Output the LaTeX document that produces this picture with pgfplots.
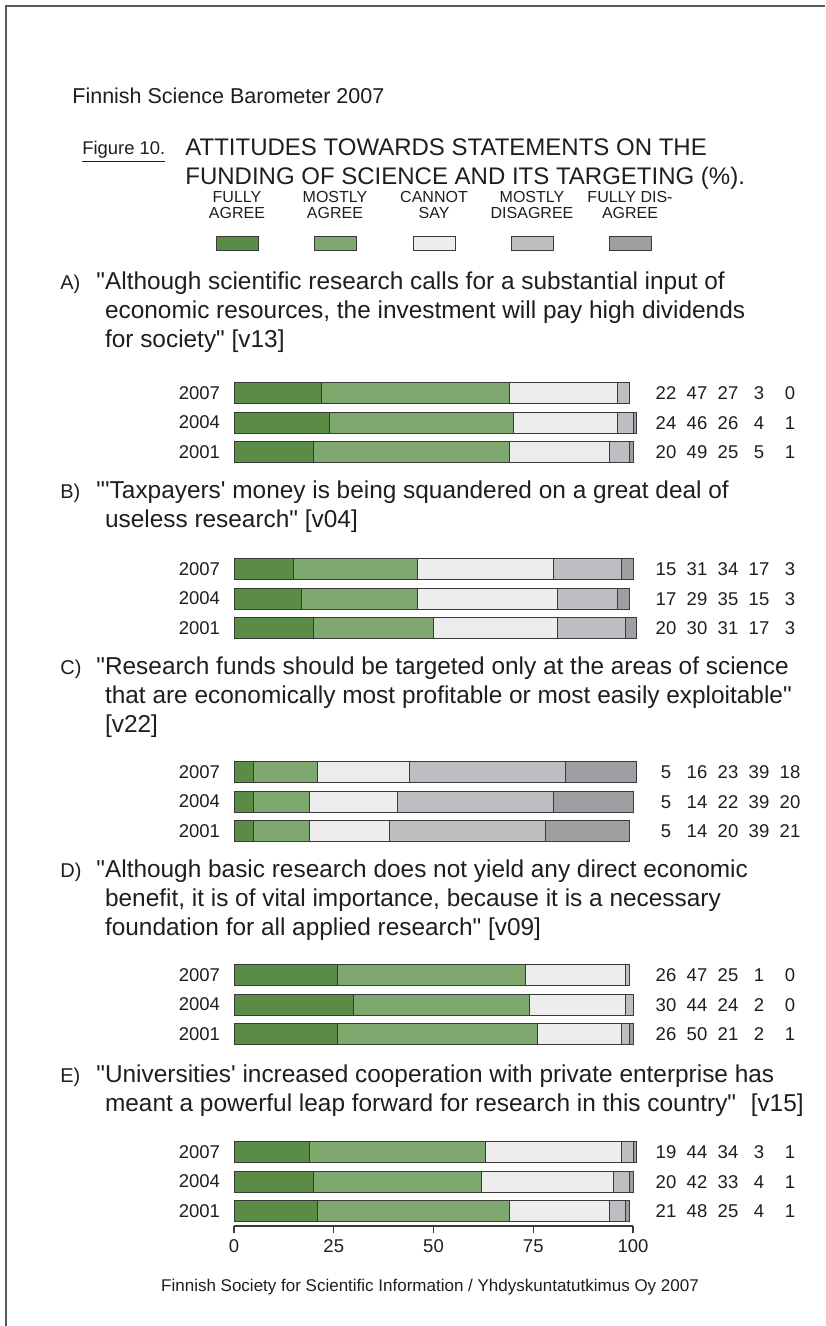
\documentclass[border=0pt]{standalone}
\usepackage{pgfplots}
\pgfplotsset{compat=1.18}
\usepackage{pgfplotstable}
\usepackage{fontspec}
\setmainfont{Liberation Sans}

\definecolor{fullyagree}{HTML}{5A8C46}
\definecolor{mostlyagree}{HTML}{7FA86E}
\definecolor{cannotsay}{HTML}{EDEDED}
\definecolor{mostlydis}{HTML}{BDBEC2}
\definecolor{fullydis}{HTML}{9E9FA3}
\definecolor{barline}{HTML}{3A3A3A}
\definecolor{framegray}{HTML}{5A5A5A}
\definecolor{txt}{HTML}{1E1E1E}

\newcommand\headfont{\fontsize{10.75}{12}\selectfont}
\newcommand\figfont{\fontsize{9.2}{10}\selectfont}
\newcommand\titlefont{\fontsize{12}{14.5}\selectfont}
\newcommand\stmtfont{\fontsize{12.2}{14.5}\selectfont}
\newcommand\letterfont{\fontsize{10}{12}\selectfont}
\newcommand\legfont{\fontsize{8}{8}\selectfont}
\newcommand\numfont{\fontsize{9.25}{11}\selectfont}
\newcommand\footfont{\fontsize{8.5}{10}\selectfont}
\newcommand\q{\textquotedbl}

% shares (%) per statement and survey year; ypos = vertical position of the bar
\pgfplotstableread{
ypos   year fa ma cs md fd
393    2007 22 47 27  3  0
422.5  2004 24 46 26  4  1
452    2001 20 49 25  5  1
569    2007 15 31 34 17  3
598.5  2004 17 29 35 15  3
628    2001 20 30 31 17  3
772    2007  5 16 23 39 18
801.5  2004  5 14 22 39 20
831    2001  5 14 20 39 21
975    2007 26 47 25  1  0
1004.5 2004 30 44 24  2  0
1034   2001 26 50 21  2  1
1152   2007 19 44 34  3  1
1181.5 2004 20 42 33  4  1
1211   2001 21 48 25  4  1
}\survey

\begin{document}
\begin{tikzpicture}
\begin{scope}[x=0.5pt,y=-0.5pt]
  \path[use as bounding box] (0,0) rectangle (825,1326);
  % page frame
  \draw[framegray, line width=1pt] (6,1326) -- (6,6) -- (825,6);

  % header
  \node[anchor=base west, inner sep=0pt, txt, font=\headfont] at (72,104) {Finnish Science Barometer 2007};
  \node[anchor=base west, inner sep=0pt, txt, font=\figfont] at (82,155) {\underline{Figure 10.}};
  \node[anchor=base west, inner sep=0pt, txt, font=\titlefont] at (185,156) {ATTITUDES TOWARDS STATEMENTS ON THE};
  \node[anchor=base west, inner sep=0pt, txt, font=\titlefont] at (185,185) {FUNDING OF SCIENCE AND ITS TARGETING (\%).};

  % legend
  \foreach \cx/\la/\lb/\col in {237/FULLY/AGREE/fullyagree, 335/MOSTLY/AGREE/mostlyagree,
                               434/CANNOT/SAY/cannotsay, 532/MOSTLY/DISAGREE/mostlydis,
                               630/FULLY DIS-/AGREE/fullydis}{
    \node[anchor=base, inner sep=0pt, txt, font=\legfont] at (\cx,203) {\la};
    \node[anchor=base, inner sep=0pt, txt, font=\legfont] at (\cx,219) {\lb};
    \draw[fill=\col, draw=barline, line width=0.4pt] (\cx-21,236) rectangle (\cx+21,250);
  }

  % statements
  \node[anchor=base west, inner sep=0pt, txt, font=\letterfont] at (60,290) {A)};
  \node[anchor=base west, inner sep=0pt, txt, font=\stmtfont] at (96,290) {\q Although scientific research calls for a substantial input of};
  \node[anchor=base west, inner sep=0pt, txt, font=\stmtfont] at (96,319) {\phantom{\q}economic resources, the investment will pay high dividends};
  \node[anchor=base west, inner sep=0pt, txt, font=\stmtfont] at (96,348) {\phantom{\q}for society\q{} [v13]};

  \node[anchor=base west, inner sep=0pt, txt, font=\letterfont] at (60,498) {B)};
  \node[anchor=base west, inner sep=0pt, txt, font=\stmtfont] at (96,498) {\q\textquotesingle Taxpayers\textquotesingle{} money is being squandered on a great deal of};
  \node[anchor=base west, inner sep=0pt, txt, font=\stmtfont] at (96,527) {\phantom{\q}useless research\q{} [v04]};

  \node[anchor=base west, inner sep=0pt, txt, font=\letterfont] at (60,674) {C)};
  \node[anchor=base west, inner sep=0pt, txt, font=\stmtfont] at (96,674) {\q Research funds should be targeted only at the areas of science};
  \node[anchor=base west, inner sep=0pt, txt, font=\stmtfont] at (96,703) {\phantom{\q}that are economically most profitable or most easily exploitable\q};
  \node[anchor=base west, inner sep=0pt, txt, font=\stmtfont] at (96,732) {\phantom{\q}[v22]};

  \node[anchor=base west, inner sep=0pt, txt, font=\letterfont] at (60,877) {D)};
  \node[anchor=base west, inner sep=0pt, txt, font=\stmtfont] at (96,877) {\q Although basic research does not yield any direct economic};
  \node[anchor=base west, inner sep=0pt, txt, font=\stmtfont] at (96,906) {\phantom{\q}benefit, it is of vital importance, because it is a necessary};
  \node[anchor=base west, inner sep=0pt, txt, font=\stmtfont] at (96,935) {\phantom{\q}foundation for all applied research\q{} [v09]};

  \node[anchor=base west, inner sep=0pt, txt, font=\letterfont] at (60,1082) {E)};
  \node[anchor=base west, inner sep=0pt, txt, font=\stmtfont] at (96,1082) {\q Universities\textquotesingle{} increased cooperation with private enterprise has};
  \node[anchor=base west, inner sep=0pt, txt, font=\stmtfont] at (96,1111) {\phantom{\q}meant a powerful leap forward for research in this country\q\hspace{0.6em}[v15]};

  % footer
  \node[anchor=base, inner sep=0pt, txt, font=\footfont] at (430,1291) {Finnish Society for Scientific Information / Yhdyskuntatutkimus Oy 2007};
\end{scope}

\begin{axis}[
  at={(117pt,-613pt)}, anchor=south west,
  scale only axis, width=199.5pt, height=433pt,
  xmin=0, xmax=100, ymin=-1226, ymax=-360,
  xbar stacked, bar width=10.5pt,
  axis x line*=bottom, axis y line*=left,
  y axis line style={draw=none},
  ytick style={draw=none},
  x axis line style={line width=0.6pt, color=barline},
  xtick style={line width=0.6pt, color=barline},
  tick align=outside, major tick length=3.5pt,
  xtick={0,25,50,75,100},
  ytick={-393,-422.5,-452,-569,-598.5,-628,-772,-801.5,-831,-975,-1004.5,-1034,-1152,-1181.5,-1211},
  yticklabels={2007,2004,2001,2007,2004,2001,2007,2004,2001,2007,2004,2001,2007,2004,2001},
  tick label style={font=\numfont, color=txt},
  /pgf/number format/assume math mode=true,
  clip=false,
  every axis plot/.append style={draw=barline, line width=0.5pt},
]
  \addplot[fill=fullyagree]  table[x=fa, y expr=-\thisrow{ypos}] {\survey};
  \addplot[fill=mostlyagree] table[x=ma, y expr=-\thisrow{ypos}] {\survey};
  \addplot[fill=cannotsay]   table[x=cs, y expr=-\thisrow{ypos}] {\survey};
  \addplot[fill=mostlydis]   table[x=md, y expr=-\thisrow{ypos}] {\survey};
  \addplot[fill=fullydis]    table[x=fd, y expr=-\thisrow{ypos}] {\survey};
\end{axis}

% value columns to the right of the bars
\begin{scope}[x=0.5pt,y=-0.5pt]
  \pgfplotstablegetrowsof{\survey}
  \pgfmathtruncatemacro{\lastrow}{\pgfplotsretval-1}
  \foreach \r in {0,...,\lastrow}{
    \pgfplotstablegetelem{\r}{ypos}\of\survey
    \let\rowy\pgfplotsretval
    \foreach \c [count=\k from 0] in {fa,ma,cs,md,fd}{
      \pgfplotstablegetelem{\r}{\c}\of\survey
      \node[anchor=base, inner sep=0pt, txt, font=\numfont] at (666+31*\k, \rowy+6.6) {\pgfplotsretval};
    }
  }
\end{scope}
\end{tikzpicture}
\end{document}
